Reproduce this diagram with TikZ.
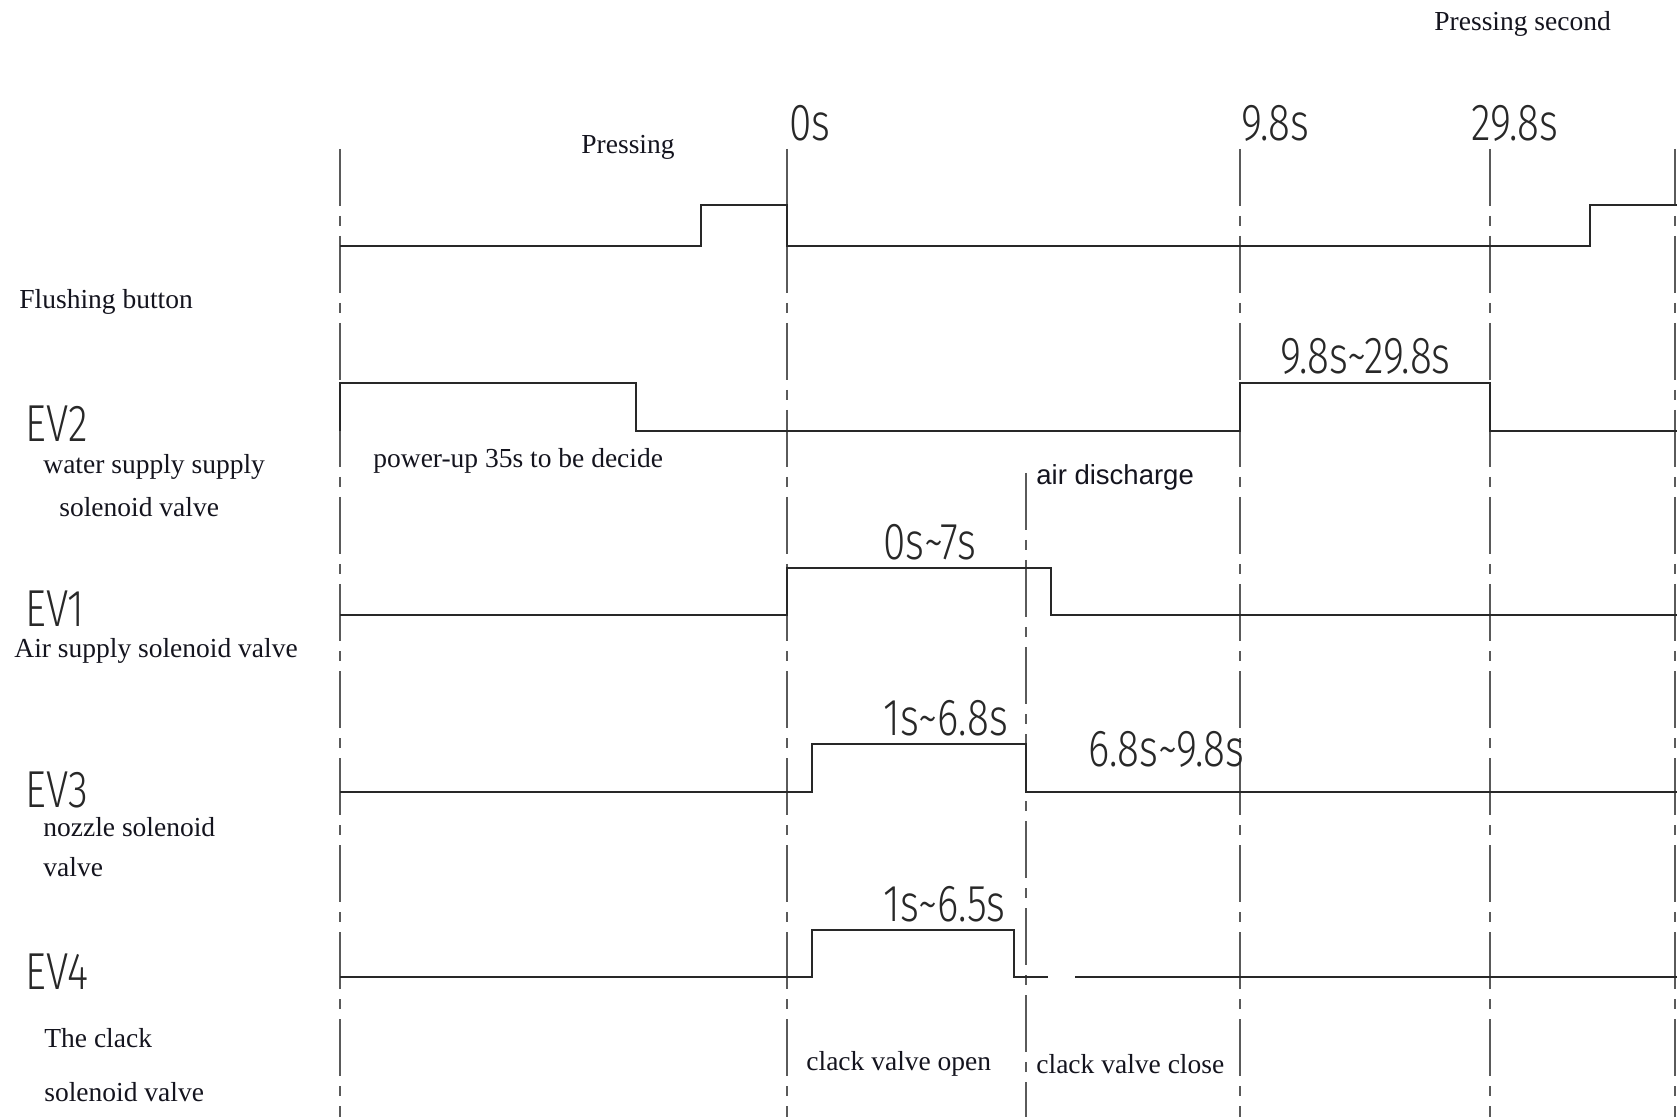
\documentclass[tikz,border=0pt]{standalone}
\usepackage{fontspec}
\setmainfont{Liberation Serif}
\newfontfamily\cadfont[FakeStretch=0.78]{Fira Sans Light}
\newfontfamily\arialfont{Liberation Sans}
\definecolor{waveBlack}{RGB}{40,40,40}
\definecolor{guideGray}{RGB}{90,90,90}
\definecolor{labelInk}{RGB}{20,20,30}
\tikzset{
  wave/.style={draw=waveBlack, line width=1pt},
  guide/.style={draw=guideGray, line width=1.4pt, dash pattern=on 28.5pt off 5pt on 5pt off 5pt},
  note/.style={anchor=west, inner sep=0pt, text=labelInk, font=\fontsize{13.75}{16}\selectfont},
  sansnote/.style={anchor=west, inner sep=0pt, text=labelInk, font=\arialfont\fontsize{13.75}{16}\selectfont},
  cad/.style={anchor=west, inner sep=0pt, text=waveBlack, font=\cadfont\fontsize{26}{30}\selectfont}
}
\begin{document}
\begin{tikzpicture}[x=0.5pt,y=-0.5pt]
  \useasboundingbox (0,0) rectangle (1677,1117);

  \foreach \gx in {340,787,1240,1490,1675}
    \draw[guide] (\gx,149) -- (\gx,1117);
  \draw[guide] (1026,473) -- (1026,1117);

  \node[cad] (t0) at (789,123) {0s};
  \node[cad] (t98) at (1241,123) {9.8s};
  \node[cad] (t298) at (1471,123) {29.8s};
  \node[note] (press) at (581,147) {Pressing};
  \node[note] (pressSecond) at (1434,24) {Pressing second};

  \draw[wave] (340,246) -- (701,246) -- (701,205) -- (787,205) -- (787,246)
    -- (1590,246) -- (1590,205) -- (1677,205);
  \node[note] (flushLbl) at (19,302) {Flushing button};

  \draw[wave] (340,431) -- (340,383) -- (636,383) -- (636,431) -- (1240,431)
    -- (1240,383) -- (1490,383) -- (1490,431) -- (1677,431);
  \node[cad] (ev2) at (25,424) {EV2};
  \node[note] (ev2Lbl) at (43,467) {water supply supply};
  \node[note] (ev2Lbl2) at (59,507) {solenoid valve};
  \node[note] (powerUp) at (373,461) {power-up 35s to be decide};
  \node[cad] (ev2Time) at (1280,356) {9.8s\char"7E 29.8s};

  \draw[wave] (340,615) -- (787,615) -- (787,568) -- (1051,568) -- (1051,615) -- (1677,615);
  \node[cad] (ev1) at (25,609) {EV1};
  \node[note] (ev1Lbl) at (14,651) {Air supply solenoid valve};
  \node[sansnote] (airOut) at (1036,477) {air discharge};
  \node[cad] (ev1Time) at (883,542) {0s\char"7E 7s};

  \draw[wave] (340,792) -- (812,792) -- (812,744) -- (1026,744) -- (1026,792) -- (1677,792);
  \node[cad] (ev3) at (25,790) {EV3};
  \node[note] (ev3Lbl) at (43,827) {nozzle solenoid};
  \node[note] (ev3Lbl2) at (43,867) {valve};
  \node[cad] (ev3Time) at (883,718) {1s\char"7E 6.8s};
  \node[cad] (ev3Rest) at (1088,749) {6.8s\char"7E 9.8s};

  \draw[wave] (340,977) -- (812,977) -- (812,930) -- (1014,930) -- (1014,977) -- (1048,977);
  \draw[wave] (1075,977) -- (1677,977);
  \node[cad] (ev4) at (25,972) {EV4};
  \node[note] (ev4Lbl) at (44,1038) {The clack};
  \node[note] (ev4Lbl2) at (44,1092) {solenoid valve};
  \node[cad] (ev4Time) at (883,904) {1s\char"7E 6.5s};
  \node[note] (clackOpen) at (806,1064) {clack valve open};
  \node[note] (clackClose) at (1036,1064) {clack valve close};
\end{tikzpicture}
\end{document}
